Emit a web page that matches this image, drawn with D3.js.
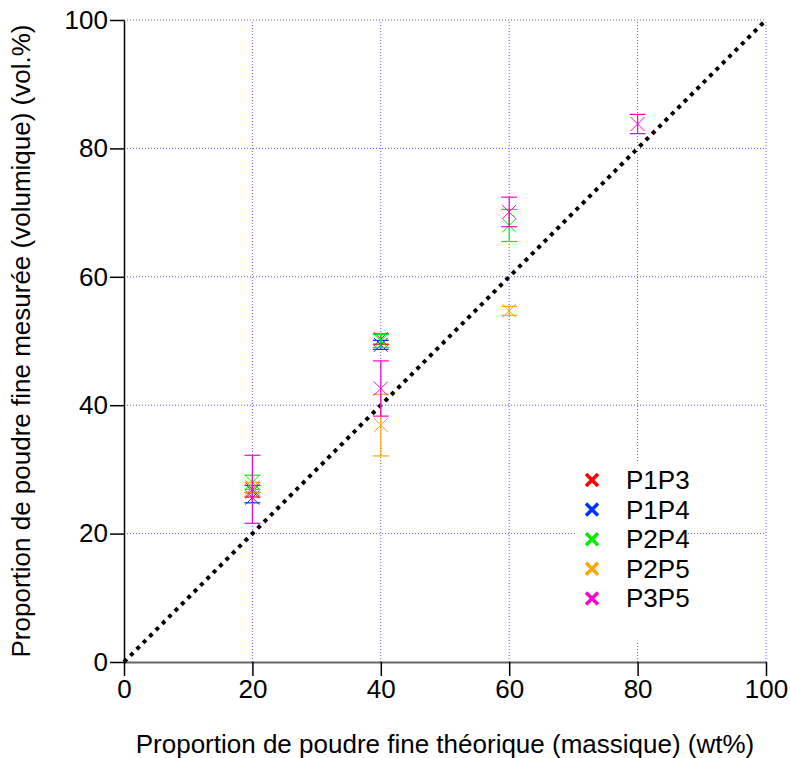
<!DOCTYPE html>
<html><head><meta charset="utf-8">
<script src="https://cdn.jsdelivr.net/npm/d3@7"></script>
<style>body{margin:0;background:#fff}svg{display:block;font-family:"Liberation Sans",Arial,sans-serif}</style>
</head><body><div id="chart"></div>
<script>
const seriesNames = ["P1P3","P1P4","P2P4","P2P5","P3P5"];
const seriesColors = ["#ff0000","#0033ff","#00ee00","#ffa500","#ff00cc"];
// x, measured y, error
const P1P3 = [[20,26.6,0.9],[40,50.3,0.8]];
const P1P4 = [[20,25.6,0.8],[40,49.4,0.7]];
const P2P4 = [[20,28.0,1.1],[40,50.0,1.0],[60,68.0,2.5]];
const P2P5 = [[20,27.2,0.8],[40,36.9,4.8],[60,54.7,0.7]];
const P3P5 = [[20,26.9,5.3],[40,42.6,4.3],[60,70.1,2.3],[80,83.8,1.5]];
const seriesData = [P1P3,P1P4,P2P4,P2P5,P3P5];
const ticks = [0,20,40,60,80,100];
const xTitle = "Proportion de poudre fine théorique (massique) (wt%)";
const yTitle = "Proportion de poudre fine mesurée (volumique) (vol.%)";

const W=790,H=758, L=124,R=766,T=20,B=662, FS=26;
const svg=d3.select("#chart").append("svg").attr("width",W).attr("height",H);
const x=d3.scaleLinear().domain([0,100]).range([L,R]);
const y=d3.scaleLinear().domain([0,100]).range([B,T]);

// grid
const g=svg.append("g");
ticks.filter(t=>t>0).forEach(t=>{
  g.append("line").attr("x1",x(t)).attr("x2",x(t)).attr("y1",B).attr("y2",T)
   .attr("stroke","#5a5aff").attr("stroke-width",1).attr("stroke-dasharray","1,2");
  g.append("line").attr("x1",L).attr("x2",R).attr("y1",y(t)).attr("y2",y(t))
   .attr("stroke","#5a5aff").attr("stroke-width",1).attr("stroke-dasharray","1,2");
});

// axes
const xa=svg.append("g").attr("transform",`translate(0,${B})`)
  .call(d3.axisBottom(x).tickValues(ticks).tickSize(14).tickSizeOuter(0).tickPadding(4));
xa.select(".domain").attr("stroke","#666").attr("stroke-width",2);
xa.selectAll(".tick line").attr("stroke","#000").attr("stroke-width",1.5);
xa.selectAll("text").attr("font-size",FS).attr("fill","#000").attr("font-family","Liberation Sans, Arial");
const ya=svg.append("g").attr("transform",`translate(${L},0)`)
  .call(d3.axisLeft(y).tickValues(ticks).tickSize(14).tickSizeOuter(0).tickPadding(2));
ya.select(".domain").attr("stroke","#000").attr("stroke-width",1.5);
ya.selectAll(".tick line").attr("stroke","#000").attr("stroke-width",1.5);
ya.selectAll("text").attr("font-size",FS).attr("fill","#000").attr("font-family","Liberation Sans, Arial");

// diagonal
svg.append("line").attr("x1",x(0)).attr("y1",y(0)).attr("x2",x(100)).attr("y2",y(100))
  .attr("stroke","#000").attr("stroke-width",4).attr("stroke-dasharray","4,5");

// legend box (covers grid)
const lg=svg.append("g");
lg.append("rect").attr("x",576).attr("y",462).attr("width",112).attr("height",180).attr("fill","#fff");

// data
const s=7, cap=8;
seriesData.forEach((data,i)=>{
  const c=seriesColors[i];
  const sg=svg.append("g");
  data.forEach(([xv,yv,e])=>{
    const cx=x(xv), cy=y(yv);
    sg.append("line").attr("x1",cx).attr("x2",cx).attr("y1",y(yv-e)).attr("y2",y(yv+e)).attr("stroke",c).attr("stroke-width",1.2);
    [yv-e,yv+e].forEach(v=>sg.append("line").attr("x1",cx-cap).attr("x2",cx+cap).attr("y1",y(v)).attr("y2",y(v)).attr("stroke",c).attr("stroke-width",1.2));
    sg.append("path").attr("d",`M${cx-s},${cy-s}L${cx+s},${cy+s}M${cx-s},${cy+s}L${cx+s},${cy-s}`)
      .attr("stroke",c).attr("stroke-width",1).attr("fill","none");
  });
});

// legend
seriesNames.forEach((n,i)=>{
  const ly=480+i*29.6, lx=592;
  lg.append("path").attr("d",`M${lx-6},${ly-6}L${lx+6},${ly+6}M${lx-6},${ly+6}L${lx+6},${ly-6}`)
    .attr("stroke",seriesColors[i]).attr("stroke-width",3.5).attr("fill","none");
  lg.append("text").attr("x",626).attr("y",ly+9).attr("font-size",FS).attr("fill","#000").text(n);
});

// titles
svg.append("text").attr("x",445).attr("y",753).attr("text-anchor","middle").attr("font-size",FS).text(xTitle);
svg.append("text").attr("transform",`translate(30,341) rotate(-90)`).attr("text-anchor","middle").attr("font-size",FS).text(yTitle);
</script></body></html>
